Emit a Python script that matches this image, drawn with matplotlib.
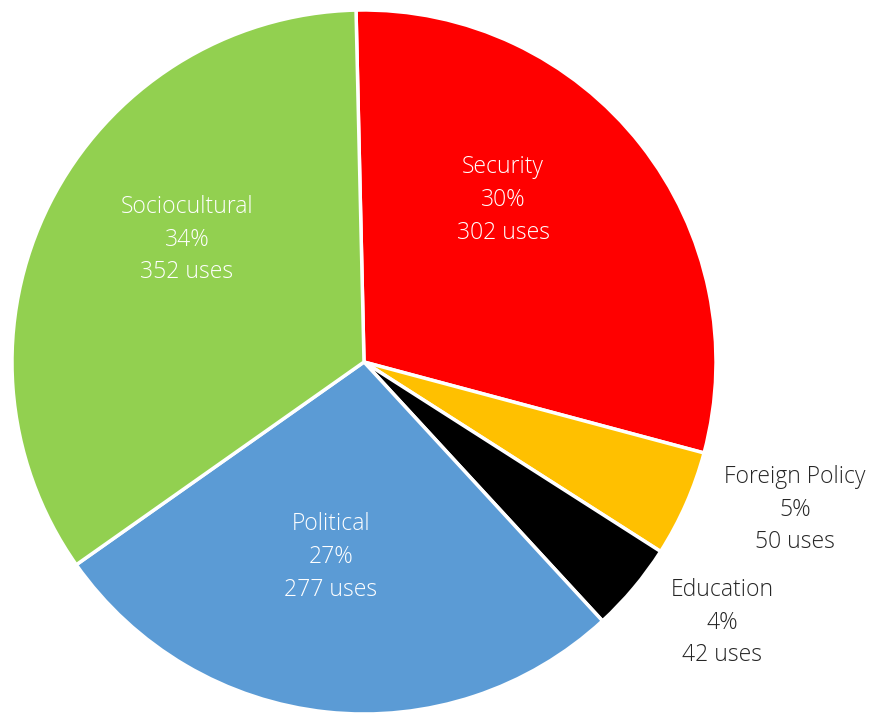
import matplotlib
matplotlib.use("Agg")
import matplotlib.pyplot as plt

categories = ["Security", "Foreign Policy", "Education", "Political", "Sociocultural"]
uses = [302, 50, 42, 277, 352]
percents = ["30%", "5%", "4%", "27%", "34%"]
colors = ["#FF0000", "#FFC000", "#000000", "#5B9BD5", "#92D050"]
text_colors = ["white", "#262626", "#262626", "white", "white"]
# label positions in radius units (layout)
label_pos = [(0.395, 0.46), (1.224, -0.42), (1.017, -0.741), (-0.094, -0.554), (-0.503, 0.347)]

plt.rcParams['font.family'] = ['Open Sans', 'DejaVu Sans']

fig = plt.figure(figsize=(8.77, 7.13), dpi=100)
ax = fig.add_axes([12/877, -1/713, 704/877, 704/713])
ax.pie(uses, colors=colors, startangle=91.3, counterclock=False, radius=1,
       wedgeprops=dict(edgecolor="white", linewidth=2.5))
ax.set_xlim(-1, 1)
ax.set_ylim(-1, 1)
ax.set_aspect('equal')
ax.axis('off')

for cat, u, p, c, (x, y) in zip(categories, uses, percents, text_colors, label_pos):
    ax.text(x, y, f"{cat}\n{p}\n{u} uses", ha='center', va='center', color=c,
            fontsize=16.5, fontweight='light', linespacing=1.48, clip_on=False)

fig.savefig("out.png", dpi=100)
